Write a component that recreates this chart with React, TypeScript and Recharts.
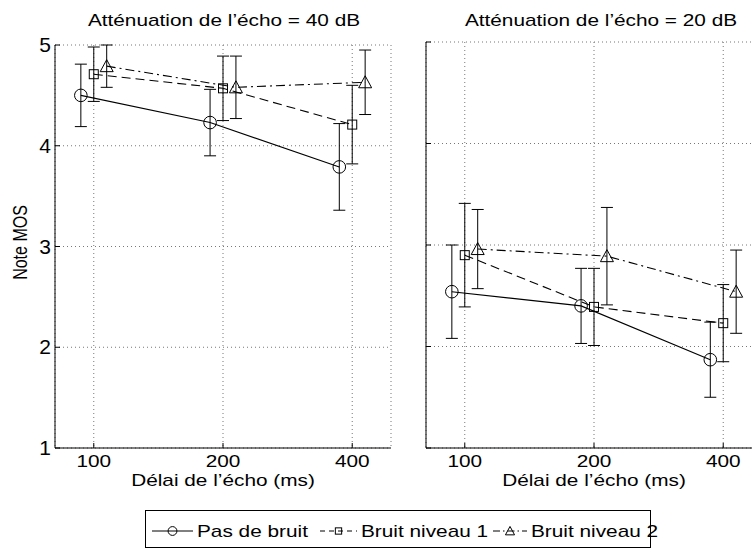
import React from 'react';
import { LineChart, Line, XAxis, YAxis, CartesianGrid, ErrorBar } from 'recharts';

// delays (ms) shown on the x axis, one category per position 1..3
const delays = ['100', '200', '400'];
const yTicks = [1, 2, 3, 4, 5];
const seriesNames = ['Pas de bruit', 'Bruit niveau 1', 'Bruit niveau 2'];
const titles = ['Atténuation de l’écho = 40 dB', 'Atténuation de l’écho = 20 dB'];

// Atténuation de l'écho = 40 dB
const mos40Pas = [4.5, 4.23, 3.79];
const err40Pas = [0.31, 0.33, 0.43];
const mos40N1 = [4.71, 4.57, 4.21];
const err40N1 = [0.27, 0.32, 0.39];
const mos40N2 = [4.79, 4.58, 4.63];
const err40N2 = [0.21, 0.31, 0.32];

// Atténuation de l'écho = 20 dB
const mos20Pas = [2.54, 2.4, 1.87];
const err20Pas = [0.46, 0.37, 0.37];
const mos20N1 = [2.9, 2.39, 2.23];
const err20N1 = [0.51, 0.38, 0.38];
const mos20N2 = [2.96, 2.89, 2.54];
const err20N2 = [0.39, 0.48, 0.41];

const SX = 1.3;
const FONT = '"Liberation Sans", Arial, sans-serif';
const dodge = [-0.1, 0, 0.1];
const dashes = [undefined, '9 5', '9 4 2 4'];
const shapes = ['circle', 'square', 'triangle'];

const rows = (vals: number[], errs: number[], s: number) =>
  vals.map((v, i) => ({ x: i + 1 + dodge[s], y: v, err: errs[i] }));

const panel40 = [rows(mos40Pas, err40Pas, 0), rows(mos40N1, err40N1, 1), rows(mos40N2, err40N2, 2)];
const panel20 = [rows(mos20Pas, err20Pas, 0), rows(mos20N1, err20N1, 1), rows(mos20N2, err20N2, 2)];

const SText = ({ x, y, anchor = 'middle', rotate = false, size = 16, sx = SX, children }: any) => (
  <text
    transform={`translate(${x},${y}) scale(${sx},1)${rotate ? ' rotate(-90)' : ''}`}
    textAnchor={anchor}
    fontFamily={FONT}
    fontSize={size}
    fill="#000"
  >
    {children}
  </text>
);

const Marker = ({ cx, cy, shape, s = 1 }: any) => {
  if (cx == null || cy == null) return null;
  if (shape === 'circle') return <circle cx={cx} cy={cy} r={6.3 * s} fill="none" stroke="#000" strokeWidth={1} />;
  if (shape === 'square')
    return <rect x={cx - 4.5 * s} y={cy - 4.5 * s} width={9 * s} height={9 * s} fill="none" stroke="#000" strokeWidth={1} />;
  return (
    <polygon
      points={`${cx},${cy - 6.5 * s} ${cx - 6.5 * s},${cy + 5.5 * s} ${cx + 6.5 * s},${cy + 5.5 * s}`}
      fill="none"
      stroke="#000"
      strokeWidth={1}
    />
  );
};

const BottomTick = ({ x, y, payload }: any) => (
  <g>
    <line x1={x} y1={y} x2={x} y2={y - 5} stroke="#000" />
    <SText x={x} y={y + 19}>{delays[payload.value - 1]}</SText>
  </g>
);
const TopTick = ({ x, y }: any) => <line x1={x} y1={y} x2={x} y2={y + 5} stroke="#000" />;
const LeftTick = ({ x, y, payload, labels }: any) => (
  <g>
    <line x1={x} y1={y} x2={x + 5} y2={y} stroke="#000" />
    {labels && (
      <SText x={x - 4} y={y + 7} anchor="end" size={20} sx={1.05}>
        {payload.value}
      </SText>
    )}
  </g>
);
const RightTick = ({ x, y }: any) => <line x1={x} y1={y} x2={x - 5} y2={y} stroke="#000" />;

const Panel = ({ series, top, yLabels, yWidth, width, right, id }: any) => (
  <LineChart width={width} height={500} margin={{ top, right, left: 0, bottom: 0 }}>
    <CartesianGrid stroke="#777" strokeDasharray="1 3" />
    <XAxis
      dataKey="x"
      type="number"
      domain={[0.7, 3.3]}
      ticks={[1, 2, 3]}
      allowDataOverflow
      height={52}
      axisLine={{ stroke: '#000' }}
      tickLine={false}
      tickSize={0}
      tickMargin={0}
      tick={(p: any) => <BottomTick {...p} />}
      label={{
        content: (p: any) => (
          <SText x={p.viewBox.x + p.viewBox.width / 2} y={p.viewBox.y + 38}>Délai de l’écho (ms)</SText>
        ),
      }}
    />
    <XAxis
      xAxisId="top"
      orientation="top"
      dataKey="x"
      type="number"
      domain={[0.7, 3.3]}
      ticks={[1, 2, 3]}
      allowDataOverflow
      height={0}
      axisLine={{ stroke: '#000' }}
      tickLine={false}
      tickSize={0}
      tickMargin={0}
      tick={(p: any) => <TopTick {...p} />}
    />
    <YAxis
      type="number"
      domain={[1, 5]}
      ticks={yTicks}
      allowDataOverflow
      width={yWidth}
      axisLine={{ stroke: '#000' }}
      tickLine={false}
      tickSize={0}
      tickMargin={0}
      tick={(p: any) => <LeftTick {...p} labels={yLabels} />}
      label={
        yLabels
          ? {
              content: (p: any) => (
                <SText x={27} y={p.viewBox.y + p.viewBox.height / 2 - 4} rotate>Note MOS</SText>
              ),
            }
          : undefined
      }
    />
    <YAxis
      yAxisId="right"
      orientation="right"
      type="number"
      domain={[1, 5]}
      ticks={yTicks}
      allowDataOverflow
      width={0}
      axisLine={{ stroke: '#000' }}
      tickLine={false}
      tickSize={0}
      tickMargin={0}
      tick={(p: any) => <RightTick {...p} />}
    />
    {series.map((d: any[], s: number) => (
      <Line
        key={seriesNames[s]}
        name={seriesNames[s]}
        data={d}
        dataKey="y"
        type="linear"
        stroke="#000"
        strokeWidth={1.1}
        strokeDasharray={dashes[s]}
        isAnimationActive={false}
        activeDot={false}
        dot={(p: any) => <Marker key={`${id}-${s}-${p.index}`} cx={p.cx} cy={p.cy} shape={shapes[s]} />}
      >
        <ErrorBar dataKey="err" direction="y" width={6} stroke="#000" strokeWidth={1} />
      </Line>
    ))}
  </LineChart>
);

const Overlay = () => {
  const items = [
    { x0: 152, x1: 193, tx: 197 },
    { x0: 320, x1: 357, tx: 361 },
    { x0: 493, x1: 527, tx: 531 },
  ];
  return (
    <svg width={752} height={551} style={{ position: 'absolute', left: 0, top: 0, pointerEvents: 'none' }}>
      <SText x={224} y={26}>{titles[0]}</SText>
      <SText x={601} y={26}>{titles[1]}</SText>
      <rect x={145.5} y={510.5} width={505} height={37} fill="#fff" stroke="#000" />
      {items.map((it, s) => (
        <g key={s}>
          <line x1={it.x0} y1={531} x2={it.x1} y2={531} stroke="#000" strokeDasharray={s === 0 ? undefined : s === 1 ? '5 4' : '7 3 1.5 3'} />
          <Marker cx={(it.x0 + it.x1) / 2} cy={531} shape={shapes[s]} s={0.7} />
          <SText x={it.tx} y={537} anchor="start">{seriesNames[s]}</SText>
        </g>
      ))}
    </svg>
  );
};

export default function App() {
  return (
    <div style={{ position: 'absolute', left: 0, top: 0, width: 752, height: 551, overflow: 'hidden', background: '#fff' }}>
      <div style={{ position: 'absolute', left: 0, top: 0 }}>
        <Panel id="p40" series={panel40} top={45} yLabels yWidth={55} width={400} right={9} />
      </div>
      <div style={{ position: 'absolute', left: 400, top: 0 }}>
        <Panel id="p20" series={panel20} top={42} yLabels={false} yWidth={26} width={380} right={18} />
      </div>
      <Overlay />
    </div>
  );
}
